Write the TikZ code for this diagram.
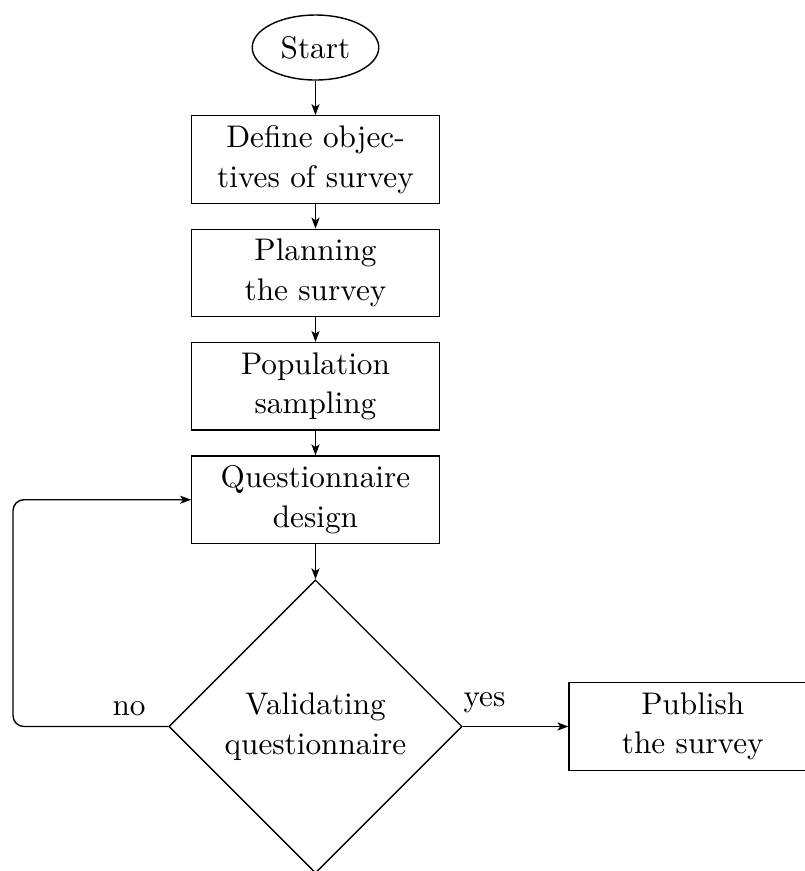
\documentclass[tikz,border=0pt]{standalone}
\usetikzlibrary{shapes.geometric,arrows.meta}

\begin{document}
\begin{tikzpicture}[
  x=0.32pt, y=-0.32pt,
  every node/.style={font=\fontsize{10}{12.6}\selectfont},
  block/.style={draw, rectangle, align=center, line width=0.45pt,
    minimum width=79.2pt, minimum height=28pt, inner sep=2pt},
  terminal/.style={draw, ellipse, align=center, line width=0.45pt,
    minimum width=40.5pt, minimum height=20.8pt, inner sep=0pt},
  decision/.style={draw, diamond, aspect=1, align=center, line width=0.45pt,
    minimum width=93.8pt, minimum height=93.8pt, inner sep=0pt},
  flow/.style={draw, line width=0.45pt,
    -{Stealth[length=3.5pt, width=2.6pt, inset=0.9pt]}},
  answer/.style={anchor=base, inner sep=0pt}
]
  % page frame; the publish box and the decision diamond run past it
  \path[use as bounding box, clip] (0,0) rectangle (805,871);

  % process chain
  \node[terminal] (start) at (315.5,47.5) {Start};
  \node[block] (define) at (315.5,159.5) {Define objec-\\tives of survey};
  \node[block] (plan)   at (315.5,273)   {Planning\\the survey};
  \node[block] (pop)    at (315.5,386.3) {Population\\sampling};
  \node[block] (quest)  at (315.5,499.7) {Questionnaire\\design};
  \node[decision] (valid) at (315.5,726.5) {Validating\\questionnaire};
  \node[block] (publish) at (692.8,726.5) {Publish\\the survey};

  % return path for a rejected questionnaire
  \coordinate (back) at (13,610);

  \draw[flow] (start) -- (define);
  \draw[flow] (define) -- (plan);
  \draw[flow] (plan) -- (pop);
  \draw[flow] (pop) -- (quest);
  \draw[flow] (quest) -- (valid);
  \draw[flow] (valid) -- (publish);
  \draw[flow, rounded corners=3.5pt] (valid.west) -| (back) |- (quest.west);

  % branch labels
  \node[answer] (yes) at (484.5,706) {yes};
  \node[answer] (no)  at (129,715) {no};
\end{tikzpicture}
\end{document}
